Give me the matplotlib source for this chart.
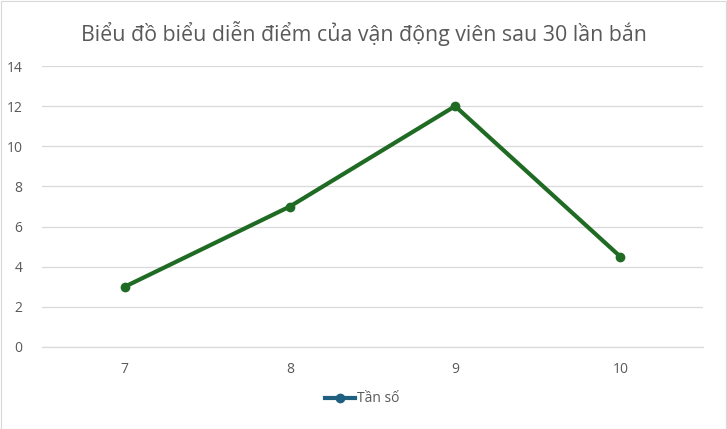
import matplotlib
matplotlib.use("Agg")
import matplotlib.pyplot as plt
from matplotlib.lines import Line2D
from matplotlib.patches import Rectangle

categories = ["7", "8", "9", "10"]
values = [3, 7, 12, 4.5]
yticks = [0, 2, 4, 6, 8, 10, 12, 14]
title = "Biểu đồ biểu diễn điểm của vận động viên sau 30 lần bắn"
series_name = "Tần số"

plt.rcParams['font.family'] = ['Open Sans', 'DejaVu Sans']

fig = plt.figure(figsize=(7.27, 4.29), dpi=100)
fig.patches.append(Rectangle((0.5/727, 0.5/429), 1 - 1.5/727, 1 - 1.5/429,
                             transform=fig.transFigure, fill=False,
                             edgecolor="#d9d9d9", linewidth=0.8))
ax = fig.add_axes([42/727, (429-347)/429, 661/727, 281/429])

x = list(range(len(categories)))
ax.plot(x, values, color="#1f6b24", linewidth=3.0, marker="o", markersize=6,
        solid_capstyle="round", solid_joinstyle="round", zorder=3)

ax.set_xlim(-0.5, len(categories) - 0.5)
ax.set_ylim(0, 14)
ax.set_yticks(yticks)
ax.set_xticks(x)
ax.set_xticklabels(categories)
ax.grid(axis="y", color="#d9d9d9", linewidth=0.9)
ax.set_axisbelow(True)
for s in ["top", "right", "left"]:
    ax.spines[s].set_visible(False)
ax.spines["bottom"].set_color("#d9d9d9")
ax.spines["bottom"].set_linewidth(0.9)
ax.tick_params(axis="both", length=0, colors="#595959", labelsize=10)
ax.tick_params(axis="y", pad=14)
ax.tick_params(axis="x", pad=11)

fig.text(0.5, 1 - 33/429, title, ha="center", va="center", fontsize=15.4, color="#595959")

handle = Line2D([], [], color="#1f5f80", linewidth=3.0, marker="o", markersize=6)
fig.legend([handle], [series_name], loc="center", bbox_to_anchor=(362/727, 1 - 399/429),
           frameon=False, fontsize=10, labelcolor="#595959", handlelength=2.2,
           handletextpad=0.1)

fig.savefig("out.png", dpi=100)
